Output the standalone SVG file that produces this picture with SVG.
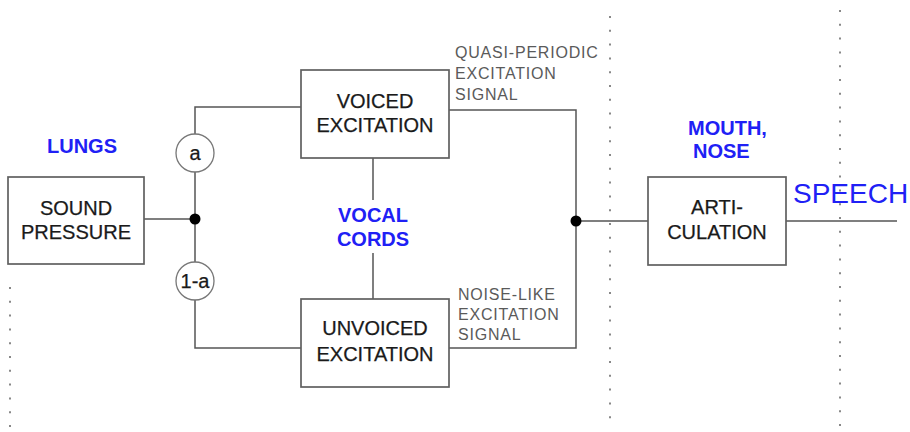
<svg xmlns="http://www.w3.org/2000/svg" width="910" height="432" viewBox="0 0 910 432">
<style>
.box{fill:#fff;stroke:#606060;stroke-width:1.7}
.ln{fill:none;stroke:#555;stroke-width:1.5}
.dot{fill:#000}
.circ{fill:#fff;stroke:#777;stroke-width:1.3}
.sep{stroke:#888;stroke-width:2;stroke-dasharray:2 11.8}
.bt{font-family:"Liberation Sans",Arial,sans-serif;font-size:20px;fill:#1a1a1a;stroke:#1a1a1a;stroke-width:0.25;text-anchor:middle}
.blue{font-family:"Liberation Sans",Arial,sans-serif;font-size:20px;font-weight:bold;fill:#2020f5}
.gray{font-family:"Liberation Sans",Arial,sans-serif;font-size:16px;fill:#5a5a5a;letter-spacing:0.8px}
</style>
<rect width="910" height="432" fill="#fff"/>
<g id="separators">
<line class="sep" x1="10" y1="287" x2="10" y2="428"/>
<line class="sep" x1="610" y1="16" x2="610" y2="430"/>
<line class="sep" x1="840" y1="10" x2="840" y2="430"/>
</g>
<g id="connectors">
<polyline class="ln" points="144,219 195,219"/>
<polyline class="ln" points="301,107 195,107 195,348 301,348"/>
<polyline class="ln" points="449,110 576,110 576,348 449,348"/>
<line class="ln" x1="373" y1="158" x2="373" y2="200"/>
<line class="ln" x1="373" y1="253" x2="373" y2="299"/>
<line class="ln" x1="576" y1="221" x2="648" y2="221"/>
<line class="ln" x1="786" y1="221" x2="897" y2="221"/>
<circle class="dot" cx="195" cy="219" r="5.5"/>
<circle class="dot" cx="576" cy="221" r="5.5"/>
</g>
<g id="lungs-label"><text class="blue" x="82" y="153" text-anchor="middle">LUNGS</text></g>
<g id="sound-pressure">
<rect class="box" x="8" y="177" width="136" height="87"/>
<text class="bt" x="76" y="215">SOUND</text>
<text class="bt" x="76" y="239">PRESSURE</text>
</g>
<g id="factor-a">
<circle class="circ" cx="195" cy="153" r="19"/>
<text class="bt" x="195" y="160">a</text>
</g>
<g id="factor-1-a">
<circle class="circ" cx="195" cy="281" r="19"/>
<text class="bt" x="195" y="288">1-a</text>
</g>
<g id="voiced">
<rect class="box" x="301" y="70" width="148" height="88"/>
<text class="bt" x="375" y="108">VOICED</text>
<text class="bt" x="375" y="132">EXCITATION</text>
</g>
<g id="unvoiced">
<rect class="box" x="301" y="299" width="148" height="88"/>
<text class="bt" x="375" y="335">UNVOICED</text>
<text class="bt" x="375" y="361">EXCITATION</text>
</g>
<g id="vocal-cords-label">
<text class="blue" x="373" y="222" text-anchor="middle">VOCAL</text>
<text class="blue" x="373" y="246" text-anchor="middle">CORDS</text>
</g>
<g id="quasi-label">
<text class="gray" x="455" y="58">QUASI-PERIODIC</text>
<text class="gray" x="455" y="79">EXCITATION</text>
<text class="gray" x="455" y="100">SIGNAL</text>
</g>
<g id="noise-label">
<text class="gray" x="458" y="300">NOISE-LIKE</text>
<text class="gray" x="458" y="320">EXCITATION</text>
<text class="gray" x="458" y="340">SIGNAL</text>
</g>
<g id="mouth-label">
<text class="blue" x="688" y="135">MOUTH,</text>
<text class="blue" x="693" y="158">NOSE</text>
</g>
<g id="articulation">
<rect class="box" x="648" y="177" width="138" height="88"/>
<text class="bt" x="717" y="214">ARTI-</text>
<text class="bt" x="717" y="239">CULATION</text>
</g>
<g id="speech-label">
<text x="793" y="203" font-family="Liberation Sans, Arial, sans-serif" font-size="28" fill="#2020f5">SPEECH</text>
</g>
</svg>
